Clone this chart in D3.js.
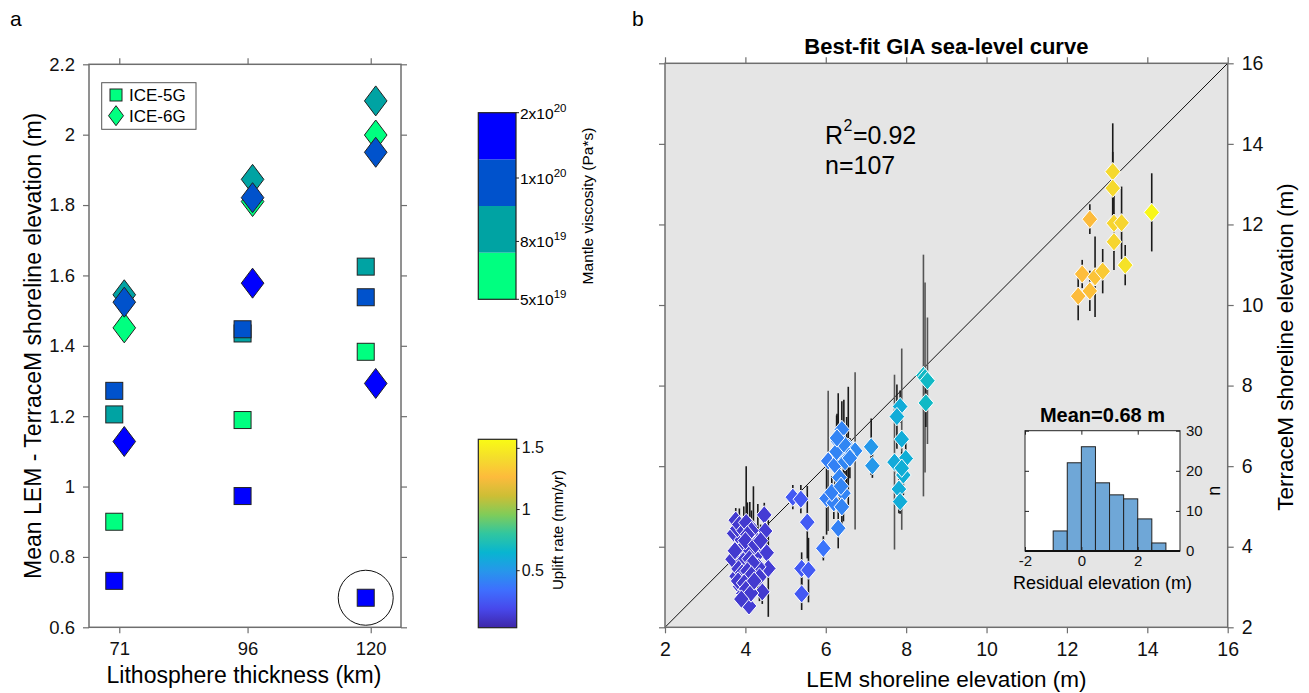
<!DOCTYPE html>
<html><head><meta charset="utf-8">
<script src="https://cdn.jsdelivr.net/npm/d3@7"></script>
<style>body{margin:0;background:#fff;} svg{font-family:"Liberation Sans",Arial,Helvetica,sans-serif;}</style>
</head><body><svg id="c" width="1309" height="693"></svg>
<script>
// ---------------- Panel a data ----------------
const thickness = [71, 96, 120];
const viscosityLabels = ["5x10|19", "8x10|19", "1x10|20", "2x10|20"];
const viscosityColors = ["#00ff80", "#00a3a3", "#0052cc", "#0000ff"];
// values ordered by viscosity: 5e19, 8e19, 1e20, 2e20
const ice5g71 = [0.900, 1.205, 1.272, 0.732];
const ice5g96 = [1.189, 1.435, 1.447, 0.973];
const ice5g120 = [1.383, 1.625, 1.538, 0.684];
const ice6g71 = [1.451, 1.545, 1.524, 1.128];
const ice6g96 = [1.810, 1.873, 1.821, 1.578];
const ice6g120 = [1.999, 2.096, 1.950, 1.293];
const yTicksA = [0.6, 0.8, 1.0, 1.2, 1.4, 1.6, 1.8, 2.0, 2.2];
const upliftTicks = [0.5, 1, 1.5];

// ---------------- Panel b data ----------------
const lemElev = [
 13.14,13.14,12.57,13.17,13.36,13.17,14.11,13.45,12.38,12.70,12.89,12.57,12.28,
 8.43,8.47,8.53,8.49,7.13,7.16,7.85,7.77,7.89,7.99,7.71,7.93,7.89,7.82,7.85,
 5.18,5.38,5.54,5.94,5.40,5.57,5.40,6.06,6.40,6.31,6.56,6.73,6.35,6.23,6.34,6.02,6.20,6.44,6.40,6.31,6.52,6.48,6.27,6.45,6.28,6.60,6.15,6.38,
 3.76,3.72,3.81,3.68,3.78,3.87,4.09,4.11,4.47,4.49,4.31,4.53,4.31,4.57,4.42,3.99,4.07,3.91,4.20,4.24,4.11,3.95,3.87,4.32,3.80,3.85,3.96,4.02,4.15,4.05,3.90,4.00,4.12,3.95,4.10,4.18,3.83,3.92,4.05,4.15,3.82,3.97,4.02,4.14,3.90,4.00,4.25,4.38,4.35,4.22,3.74
];
const terraceElev = [
 13.31,12.90,12.13,12.03,12.04,11.57,12.30,10.99,10.77,10.70,10.84,10.35,10.22,
 8.25,8.20,8.12,7.57,6.48,6.01,7.48,7.23,6.67,6.19,6.10,5.78,5.95,5.43,5.12,
 5.23,5.18,4.61,3.96,3.46,3.42,2.83,6.13,6.91,6.61,6.47,6.38,6.23,6.03,5.72,5.20,5.09,5.33,4.99,4.46,6.32,6.11,6.36,6.55,6.70,6.20,5.35,5.50,
 4.66,4.33,4.00,3.69,3.27,3.01,2.53,4.51,4.79,4.39,3.96,3.85,3.55,3.46,2.88,3.55,3.17,4.17,4.25,3.75,3.05,2.84,3.84,3.50,4.45,4.55,4.40,4.60,4.40,4.30,3.95,4.05,3.90,3.65,3.70,3.60,3.45,3.35,3.40,3.30,3.15,3.10,2.95,2.85,2.70,4.15,4.05,4.15,3.25,3.15,3.90
];
const terraceErr = [
 1.20,0.90,0.37,0.70,0.90,0.70,0.97,0.50,0.35,1.00,0.55,0.50,0.60,
 3.00,2.36,1.57,0.60,0.70,0.30,0.40,0.80,2.25,0.40,2.17,0.50,0.40,0.60,0.30,
 0.30,0.35,0.90,0.30,0.40,0.80,0.40,1.74,0.70,1.20,1.50,1.95,0.80,0.50,0.60,0.90,0.40,0.70,0.50,0.50,0.90,0.60,0.90,1.10,0.60,0.50,0.40,0.30,
 0.30,0.25,0.30,0.20,0.30,0.20,0.20,0.60,0.30,0.30,1.10,0.40,0.30,1.20,0.30,0.30,0.20,0.30,1.25,0.40,0.20,0.20,0.30,0.30,0.30,0.40,0.60,1.40,0.50,0.80,0.30,0.30,0.40,0.30,0.30,0.30,0.20,0.30,0.30,0.30,0.20,0.30,0.20,0.20,0.20,0.30,0.30,0.40,0.60,0.30,0.20
];
const upliftRate = [
 1.40,1.40,1.26,1.38,1.38,1.38,1.55,1.44,1.27,1.30,1.33,1.28,1.26,
 0.68,0.68,0.68,0.68,0.50,0.50,0.60,0.60,0.60,0.61,0.59,0.61,0.61,0.60,0.60,
 0.25,0.25,0.26,0.36,0.25,0.26,0.25,0.40,0.42,0.42,0.43,0.44,0.42,0.41,0.42,0.40,0.41,0.42,0.42,0.41,0.43,0.43,0.42,0.43,0.42,0.43,0.41,0.42,
 0.12,0.12,0.12,0.12,0.12,0.12,0.13,0.12,0.13,0.13,0.12,0.13,0.12,0.13,0.12,0.12,0.12,0.12,0.12,0.12,0.12,0.12,0.12,0.12,0.12,0.12,0.12,0.12,0.12,0.12,0.12,0.12,0.12,0.12,0.12,0.12,0.12,0.12,0.12,0.12,0.12,0.12,0.12,0.12,0.12,0.12,0.12,0.12,0.12,0.12,0.12
];
const axisTicksB = [2, 4, 6, 8, 10, 12, 14, 16];
// histogram of residuals
const residualBinStart = [-1, -0.5, 0, 0.5, 1, 1.5, 2, 2.5];
const residualCounts = [5, 22, 26, 17, 14, 13, 8, 2];
const histXTicks = [-2, 0, 2];
const histYTicks = [0, 10, 20, 30];

// parula-like colormap
const parulaStops = ["#3e26a8","#4748eb","#3e6ffe","#2796eb","#08b5d0","#31c69f","#80cc59","#cdbe35","#fdbb3c","#f4dd2c","#f9fb15"];
const upliftDomain = [0.03, 1.57];
const parula = d3.scaleLinear().domain(d3.range(parulaStops.length).map(i => upliftDomain[0] + (upliftDomain[1]-upliftDomain[0]) * i/(parulaStops.length-1))).range(parulaStops).interpolate(d3.interpolateRgb).clamp(true);

const svg = d3.select("#c");
const frameColor = "#6e6e6e";
const fmt = d => String(+(+d).toFixed(1));

function styleAxis(g, fs) {
  g.select(".domain").remove();
  g.selectAll(".tick line").attr("stroke", frameColor).attr("stroke-width", 1.2);
  g.selectAll(".tick text").attr("font-size", fs).attr("fill", "#111").attr("font-family", "'Liberation Sans',Arial,sans-serif");
}

// panel labels
svg.append("text").attr("x", 10).attr("y", 26).attr("font-size", 21).text("a");
svg.append("text").attr("x", 632).attr("y", 26).attr("font-size", 21).text("b");

// ================= Panel a =================
const A = {l: 89, r: 401, t: 64.3, b: 627.3};
const xA = d3.scaleLinear().domain([65.1, 125.9]).range([A.l, A.r]);
const yA = d3.scaleLinear().domain([0.6, 2.2]).range([A.b, A.t]);
const gA = svg.append("g");
gA.append("g").attr("transform", `translate(0,${A.b})`).call(d3.axisBottom(xA).tickValues(thickness).tickSize(6).tickPadding(9)).call(g => styleAxis(g, 18.5));
gA.append("g").attr("transform", `translate(0,${A.t})`).call(d3.axisTop(xA).tickValues(thickness).tickSize(6).tickFormat("")).call(g => styleAxis(g, 18.5));
gA.append("g").attr("transform", `translate(${A.l},0)`).call(d3.axisLeft(yA).tickValues(yTicksA).tickSize(6).tickPadding(8).tickFormat(fmt)).call(g => styleAxis(g, 18.5));
gA.append("g").attr("transform", `translate(${A.r},0)`).call(d3.axisRight(yA).tickValues(yTicksA).tickSize(6).tickFormat("")).call(g => styleAxis(g, 18.5));
gA.append("rect").attr("x", A.l).attr("y", A.t).attr("width", A.r - A.l).attr("height", A.b - A.t).attr("fill", "none").attr("stroke", frameColor).attr("stroke-width", 1.5);

gA.append("text").attr("x", (A.l + A.r) / 2 - 1).attr("y", 683).attr("text-anchor", "middle").attr("font-size", 23).text("Lithosphere thickness (km)");
gA.append("text").attr("transform", `translate(41,${(A.t + A.b) / 2}) rotate(-90)`).attr("text-anchor", "middle").attr("font-size", 23).text("Mean LEM - TerraceM shoreline elevation (m)");

const diamondPath = (hw, hh) => `M0,${-hh}L${hw},0L0,${hh}L${-hw},0Z`;
const ice5gAll = [ice5g71, ice5g96, ice5g120];
const ice6gAll = [ice6g71, ice6g96, ice6g120];
const sq = 17;
const ptsA = [];
thickness.forEach((t, i) => {
  viscosityColors.forEach((c, j) => {
    ptsA.push({type: "sq", x: t, y: ice5gAll[i][j], c});
    ptsA.push({type: "di", x: t, y: ice6gAll[i][j], c});
  });
});
ptsA.forEach(p => {
  if (p.type === "sq") {
    gA.append("rect").attr("x", xA(p.x) - 5 - sq / 2).attr("y", yA(p.y) - sq / 2).attr("width", sq).attr("height", sq)
      .attr("fill", p.c).attr("stroke", "#222").attr("stroke-width", 1);
  } else {
    gA.append("path").attr("transform", `translate(${xA(p.x) + 5},${yA(p.y)})`).attr("d", diamondPath(11.3, 15))
      .attr("fill", p.c).attr("stroke", "#222").attr("stroke-width", 1);
  }
});
// circle around best model
gA.append("circle").attr("cx", xA(120) - 5).attr("cy", yA(ice5g120[3])).attr("r", 27.5).attr("fill", "none").attr("stroke", "#111").attr("stroke-width", 1);

// legend
const lg = gA.append("g");
lg.append("rect").attr("x", 101.7).attr("y", 82.7).attr("width", 94.3).attr("height", 46.6).attr("fill", "#fff").attr("stroke", "#555").attr("stroke-width", 1);
lg.append("rect").attr("x", 110).attr("y", 89).attr("width", 12).attr("height", 12).attr("fill", viscosityColors[0]).attr("stroke", "#222");
lg.append("path").attr("transform", "translate(116,115.7)").attr("d", diamondPath(7.5, 10)).attr("fill", viscosityColors[0]).attr("stroke", "#222");
lg.append("text").attr("x", 129).attr("y", 101).attr("font-size", 17).text("ICE-5G");
lg.append("text").attr("x", 129).attr("y", 122).attr("font-size", 17).text("ICE-6G");

// viscosity colorbar
const CB1 = {l: 478.3, r: 516, t: 112.7, b: 299.3};
const cbScale = d3.scaleBand().domain(d3.range(4)).range([CB1.b, CB1.t]);
viscosityColors.forEach((c, i) => {
  svg.append("rect").attr("x", CB1.l).attr("y", cbScale(i)).attr("width", CB1.r - CB1.l).attr("height", cbScale.bandwidth()).attr("fill", c);
});
svg.append("rect").attr("x", CB1.l).attr("y", CB1.t).attr("width", CB1.r - CB1.l).attr("height", CB1.b - CB1.t).attr("fill", "none").attr("stroke", "#222").attr("stroke-width", 1.2);
const viscTickFrac = [0, 0.31, 0.65, 1]; // from bottom
viscosityLabels.forEach((lab, i) => {
  const y = CB1.b - viscTickFrac[i] * (CB1.b - CB1.t);
  svg.append("line").attr("x1", CB1.r).attr("x2", CB1.r + 3).attr("y1", y).attr("y2", y).attr("stroke", "#222");
  const [base, ex] = lab.split("|");
  const t = svg.append("text").attr("x", CB1.r + 4).attr("y", y + 6).attr("font-size", 15.5);
  t.append("tspan").text(base);
  t.append("tspan").attr("dy", -7).attr("font-size", 11.5).text(ex);
});
svg.append("text").attr("transform", `translate(593,206) rotate(-90)`).attr("text-anchor", "middle").attr("font-size", 15.5).text("Mantle viscosity (Pa*s)");

// uplift colorbar
const CB2 = {l: 478.3, r: 516.7, t: 439.3, b: 627.7};
const defs = svg.append("defs");
const grad = defs.append("linearGradient").attr("id", "parulaGrad").attr("x1", 0).attr("y1", 1).attr("x2", 0).attr("y2", 0);
d3.range(0, 1.0001, 0.05).forEach(f => {
  grad.append("stop").attr("offset", f).attr("stop-color", parula(upliftDomain[0] + f * (upliftDomain[1] - upliftDomain[0])));
});
const yCB2 = d3.scaleLinear().domain(upliftDomain).range([CB2.b, CB2.t]);
svg.append("rect").attr("x", CB2.l).attr("y", CB2.t).attr("width", CB2.r - CB2.l).attr("height", CB2.b - CB2.t).attr("fill", "url(#parulaGrad)").attr("stroke", "#222").attr("stroke-width", 1.2);
svg.append("g").attr("transform", `translate(${CB2.r},0)`).call(d3.axisRight(yCB2).tickValues(upliftTicks).tickSize(3).tickPadding(2).tickFormat(d => String(d)))
  .call(g => { g.select(".domain").remove(); g.selectAll(".tick line").attr("stroke", "#222"); g.selectAll(".tick text").attr("font-size", 16).attr("fill", "#111"); });
svg.append("text").attr("transform", `translate(563,530) rotate(-90)`).attr("text-anchor", "middle").attr("font-size", 15).text("Uplift rate (mm/yr)");

// ================= Panel b =================
const B = {l: 665, r: 1227.7, t: 63.3, b: 627.3};
const xB = d3.scaleLinear().domain([2, 16]).range([B.l, B.r]);
const yB = d3.scaleLinear().domain([2, 16]).range([B.b, B.t]);
const gB = svg.append("g");
gB.append("rect").attr("x", B.l).attr("y", B.t).attr("width", B.r - B.l).attr("height", B.b - B.t).attr("fill", "#e5e5e5");
gB.append("g").attr("transform", `translate(0,${B.b})`).call(d3.axisBottom(xB).tickValues(axisTicksB).tickSize(6).tickPadding(9).tickFormat(d => String(d))).call(g => styleAxis(g, 19.5));
gB.append("g").attr("transform", `translate(0,${B.t})`).call(d3.axisTop(xB).tickValues(axisTicksB).tickSize(6).tickFormat("")).call(g => styleAxis(g, 19.5));
gB.append("g").attr("transform", `translate(${B.l},0)`).call(d3.axisLeft(yB).tickValues(axisTicksB).tickSize(6).tickFormat("")).call(g => styleAxis(g, 19.5));
gB.append("g").attr("transform", `translate(${B.r},0)`).call(d3.axisRight(yB).tickValues(axisTicksB).tickSize(6).tickPadding(8).tickFormat(d => String(d))).call(g => styleAxis(g, 19.5));

// 1:1 line
gB.append("line").attr("x1", xB(2)).attr("y1", yB(2)).attr("x2", xB(16)).attr("y2", yB(16)).attr("stroke", "#111").attr("stroke-width", 1);

const ptsB = lemElev.map((x, i) => ({x, y: terraceElev[i], e: terraceErr[i], u: upliftRate[i]}));
gB.append("g").selectAll("line").data(ptsB).join("line")
  .attr("x1", d => xB(d.x)).attr("x2", d => xB(d.x))
  .attr("y1", d => yB(d.y - d.e)).attr("y2", d => yB(d.y + d.e))
  .attr("stroke", (d, i) => d.e > 1.5 ? "#555" : "#1a1a1a").attr("stroke-width", 1.6);
gB.append("g").selectAll("path").data(ptsB).join("path")
  .attr("transform", d => `translate(${xB(d.x)},${yB(d.y)})`)
  .attr("d", diamondPath(7.8, 9.2))
  .attr("fill", d => parula(d.u)).attr("stroke", "#fff").attr("stroke-width", 1);

gB.append("rect").attr("x", B.l).attr("y", B.t).attr("width", B.r - B.l).attr("height", B.b - B.t).attr("fill", "none").attr("stroke", frameColor).attr("stroke-width", 1.5);

gB.append("text").attr("x", (B.l + B.r) / 2).attr("y", 54).attr("text-anchor", "middle").attr("font-size", 22).attr("font-weight", "bold").text("Best-fit GIA sea-level curve");
gB.append("text").attr("x", (B.l + B.r) / 2).attr("y", 687).attr("text-anchor", "middle").attr("font-size", 22.5).text("LEM shoreline elevation (m)");
gB.append("text").attr("transform", `translate(1293,347) rotate(-90)`).attr("text-anchor", "middle").attr("font-size", 22.5).text("TerraceM shoreline elevation (m)");

// R^2 annotation as separate text pieces (no overlap)
const rText = gB.append("text").attr("x", 825).attr("y", 144).attr("font-size", 25).text("R");
const rW = rText.node().getComputedTextLength();
const supText = gB.append("text").attr("x", 825 + rW + 0.5).attr("y", 131).attr("font-size", 16).text("2");
const sW = supText.node().getComputedTextLength();
gB.append("text").attr("x", 825 + rW + sW + 1).attr("y", 144).attr("font-size", 25).text("=0.92");
gB.append("text").attr("x", 825).attr("y", 173.5).attr("font-size", 25).text("n=107");

// inset histogram
const H = {l: 1025, r: 1180, t: 430.7, b: 551};
const xH = d3.scaleLinear().domain([-2, 3.5]).range([H.l, H.r]);
const yH = d3.scaleLinear().domain([0, 30]).range([H.b, H.t]);
const gH = svg.append("g");
gH.append("rect").attr("x", H.l).attr("y", H.t).attr("width", H.r - H.l).attr("height", H.b - H.t).attr("fill", "#fff");
gH.selectAll("rect.bar").data(residualCounts).join("rect").attr("class", "bar")
  .attr("x", (d, i) => xH(residualBinStart[i])).attr("width", (d, i) => xH(residualBinStart[i] + 0.5) - xH(residualBinStart[i]))
  .attr("y", d => yH(d)).attr("height", d => yH(0) - yH(d))
  .attr("fill", "#6fa7d7").attr("stroke", "#222").attr("stroke-width", 1);
const inAx = (g) => { g.select(".domain").remove(); g.selectAll(".tick line").attr("stroke", "#222"); g.selectAll(".tick text").attr("font-size", 15).attr("fill", "#111"); };
gH.append("g").attr("transform", `translate(0,${H.b})`).call(d3.axisBottom(xH).tickValues(histXTicks).tickSize(-4).tickPadding(4).tickFormat(d => String(d))).call(inAx);
gH.append("g").attr("transform", `translate(0,${H.t})`).call(d3.axisTop(xH).tickValues(histXTicks).tickSize(-4).tickFormat("")).call(inAx);
gH.append("g").attr("transform", `translate(${H.l},0)`).call(d3.axisLeft(yH).tickValues(histYTicks).tickSize(-4).tickFormat("")).call(inAx);
gH.append("g").attr("transform", `translate(${H.r},0)`).call(d3.axisRight(yH).tickValues(histYTicks).tickSize(-4).tickPadding(6).tickFormat(d => String(d))).call(inAx);
gH.append("rect").attr("x", H.l).attr("y", H.t).attr("width", H.r - H.l).attr("height", H.b - H.t).attr("fill", "none").attr("stroke", "#222").attr("stroke-width", 1);
gH.append("line").attr("x1", H.l).attr("x2", H.r).attr("y1", H.b).attr("y2", H.b).attr("stroke", "#111").attr("stroke-width", 2);
gH.append("text").attr("x", (H.l + H.r) / 2).attr("y", 422).attr("text-anchor", "middle").attr("font-size", 20).attr("font-weight", "bold").text("Mean=0.68 m");
gH.append("text").attr("x", (H.l + H.r) / 2).attr("y", 589).attr("text-anchor", "middle").attr("font-size", 18).text("Residual elevation (m)");
gH.append("text").attr("transform", `translate(1220,${(H.t + H.b) / 2}) rotate(-90)`).attr("text-anchor", "middle").attr("font-size", 18).text("n");
</script>
</body></html>
